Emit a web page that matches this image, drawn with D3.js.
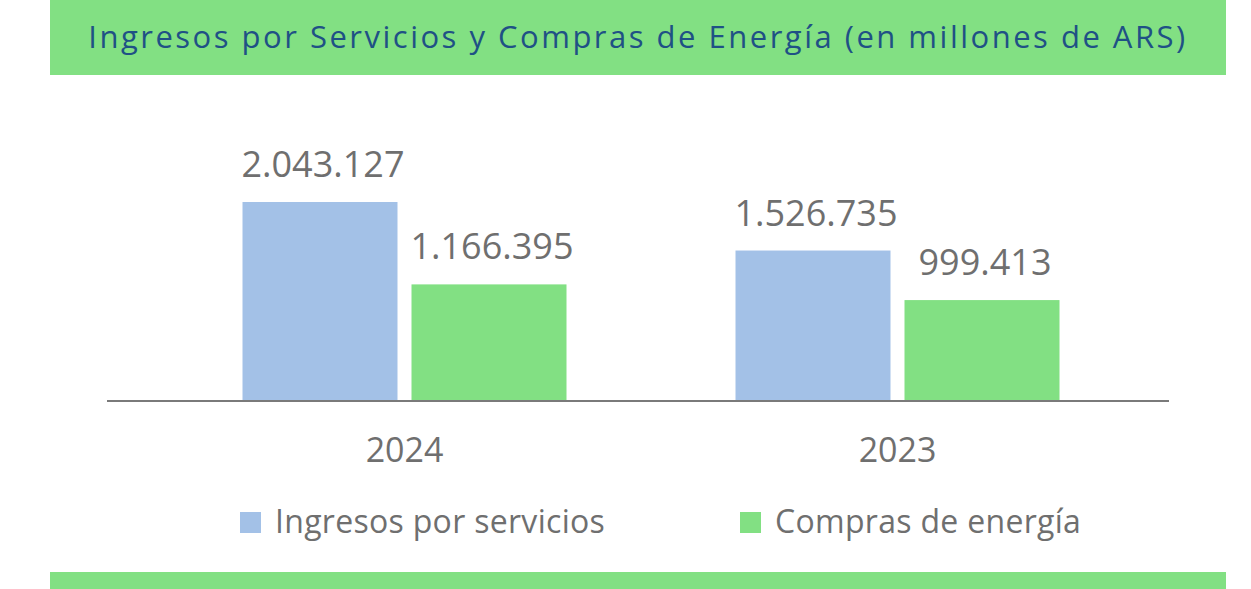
<!DOCTYPE html>
<html>
<head>
<meta charset="utf-8">
<script src="https://cdn.jsdelivr.net/npm/d3@7"></script>
<style>
  html, body { margin: 0; padding: 0; background: #ffffff; }
  svg { display: block; }
</style>
</head>
<body>
<svg id="chart" width="1251" height="589"></svg>
<script>
const titleText = "Ingresos por Servicios y Compras de Energía (en millones de ARS)";
const categories = ["2024", "2023"];
const seriesNames = ["Ingresos por servicios", "Compras de energía"];
const ingresos = [2043127, 1526735];
const compras = [1166395, 999413];
const seriesColors = ["#a3c1e7", "#82e083"];

const W = 1251, H = 589;
const svg = d3.select("#chart");
const fontFam = "'Open Sans', 'Noto Sans', sans-serif";
const textGray = "#6f6f6f";
const bandGreen = "#82e083";

// header band
svg.append("rect").attr("x", 50).attr("y", 0).attr("width", 1176).attr("height", 75).attr("fill", bandGreen);
svg.append("text")
  .attr("x", 638).attr("y", 48)
  .attr("text-anchor", "middle")
  .attr("font-family", fontFam)
  .attr("font-size", 31)
  .attr("letter-spacing", 2.5)
  .attr("fill", "#1f5185")
  .text(titleText);

// footer band
svg.append("rect").attr("x", 50).attr("y", 572).attr("width", 1176).attr("height", 17).attr("fill", bandGreen);

const baseline = 401;
const y = d3.scaleLinear().domain([0, 2043127]).range([394, 202]);

const x0 = d3.scaleBand().domain(categories).range([158, 1144]).padding(0);
const groupW = 324;
const x1 = d3.scaleBand().domain(seriesNames)
  .range([(x0.bandwidth() - groupW) / 2, (x0.bandwidth() + groupW) / 2])
  .paddingInner(2 - groupW / 169).paddingOuter(0);

const data = categories.map((c, i) => ({ cat: c, vals: [ingresos[i], compras[i]] }));

const groups = svg.append("g").selectAll("g").data(data).join("g")
  .attr("transform", d => `translate(${x0(d.cat)},0)`);

groups.selectAll("rect").data(d => d.vals.map((v, j) => ({ v, s: seriesNames[j], j })))
  .join("rect")
  .attr("x", d => x1(d.s))
  .attr("y", d => y(d.v))
  .attr("width", x1.bandwidth())
  .attr("height", d => baseline - y(d.v))
  .attr("fill", d => seriesColors[d.j]);

const fmt = d3.formatLocale({ decimal: ",", thousands: ".", grouping: [3], currency: ["$", ""] }).format(",d");

groups.selectAll("text.val").data(d => d.vals.map((v, j) => ({ v, s: seriesNames[j], j })))
  .join("text")
  .attr("class", "val")
  .attr("x", d => x1(d.s) + x1.bandwidth() / 2 + 3)
  .attr("y", d => y(d.v) - 25)
  .attr("text-anchor", "middle")
  .attr("font-family", fontFam)
  .attr("font-size", 36)
  .attr("fill", textGray)
  .text(d => fmt(d.v));

// x axis
const axis = svg.append("g").attr("transform", `translate(0,${baseline})`)
  .call(d3.axisBottom(x0).tickSize(0).tickPadding(0));
axis.select(".domain").remove();
axis.append("line").attr("x1", 107).attr("x2", 1169).attr("y1", 0).attr("y2", 0)
  .attr("stroke", "#7a7a7a").attr("stroke-width", 2);
axis.selectAll(".tick text")
  .attr("dy", 0).attr("y", 61)
  .attr("font-family", fontFam)
  .attr("font-size", 34)
  .attr("fill", textGray);

// legend
const legendX = [240, 740];
const leg = svg.append("g").selectAll("g").data(seriesNames).join("g")
  .attr("transform", (d, i) => `translate(${legendX[i]},512)`);
leg.append("rect").attr("width", 21).attr("height", 21).attr("fill", (d, i) => seriesColors[i]);
leg.append("text").attr("x", 35).attr("y", 21)
  .attr("font-family", fontFam).attr("font-size", 32)
  .attr("letter-spacing", 0.3)
  .attr("fill", textGray)
  .text(d => d);
</script>
</body>
</html>
